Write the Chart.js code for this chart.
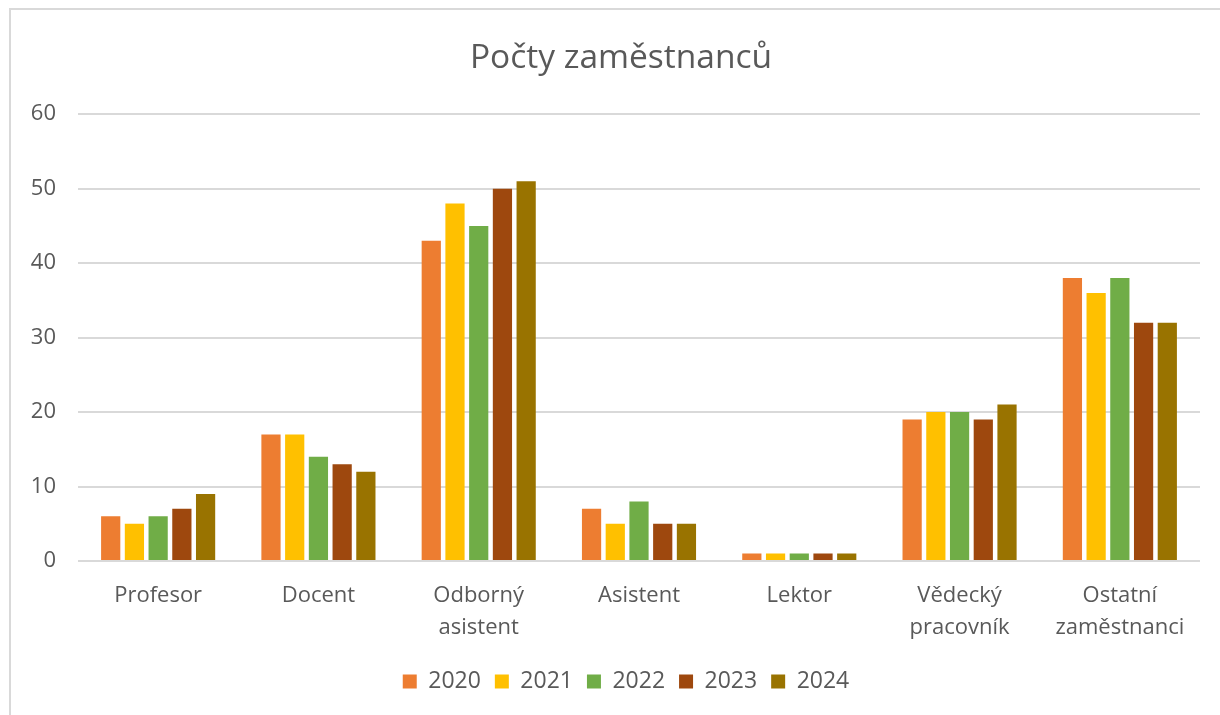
<!DOCTYPE html>
<html>
<head>
<meta charset="utf-8">
<script src="https://cdn.jsdelivr.net/npm/chart.js@4"></script>
<style>
  html, body { margin: 0; padding: 0; background: #fff; overflow: hidden; }
  #wrap { position: relative; width: 1220px; height: 715px; }
  #frame { position: absolute; left: 9px; top: 8px; width: 1240px; height: 740px;
           border: 2px solid #d9d9d9; box-sizing: border-box; }
  #myChart { position: absolute; left: 0; top: 0; }
</style>
</head>
<body>
<div id="wrap">
  <div id="frame"></div>
  <canvas id="myChart" width="1220" height="715"></canvas>
</div>
<script>
const categories = [
    ['Profesor'], ['Docent'], ['Odborný', 'asistent'], ['Asistent'], ['Lektor'],
    ['Vědecký', 'pracovník'], ['Ostatní', 'zaměstnanci']
];
const years = ['2020', '2021', '2022', '2023', '2024'];
const values2020 = [6, 17, 43, 7, 1, 19, 38];
const values2021 = [5, 17, 48, 5, 1, 20, 36];
const values2022 = [6, 14, 45, 8, 1, 20, 38];
const values2023 = [7, 13, 50, 5, 1, 19, 32];
const values2024 = [9, 12, 51, 5, 1, 21, 32];
const yTicks = [0, 10, 20, 30, 40, 50, 60];

const colors = ['#ED7D31', '#FFC000', '#70AD47', '#9E480E', '#997300'];
const allValues = [values2020, values2021, values2022, values2023, values2024];

const textColor = '#595959';
const fontFamily = '"Open Sans", sans-serif';

const datasets = [];
for (let i = 0; i < years.length; i++) {
    datasets.push({
        label: years[i],
        data: allValues[i],
        backgroundColor: colors[i],
        borderWidth: 0,
        categoryPercentage: 0.74,
        barPercentage: 0.81
    })
}

// title and legend sit a little right of centre in the original
const shiftBoxes = {
    id: 'shiftBoxes',
    afterLayout(chart) {
        chart.legend.left += 26;
        chart.legend.right += 26;
        chart.titleBlock.left += 21;
        chart.titleBlock.right += 21;
    }
};

const config = {
    type: 'bar',
    data: { labels: categories, datasets: datasets },
    plugins: [shiftBoxes],
    options: {
        responsive: false,
        animation: false,
        layout: { padding: { left: 0, right: 20, top: 0, bottom: 12 } },
        plugins: {
            title: {
                display: true,
                text: 'Počty zaměstnanců',
                color: textColor,
                font: { family: fontFamily, size: 33.5, weight: 'normal' },
                padding: { top: 38, bottom: 36 }
            },
            legend: {
                position: 'bottom',
                labels: {
                    color: textColor,
                    font: { family: fontFamily, size: 23 },
                    boxWidth: 14,
                    boxHeight: 14,
                    padding: 14
                }
            },
            tooltip: { enabled: false }
        },
        scales: {
            x: {
                grid: { display: false },
                border: { display: false },
                ticks: {
                    color: textColor,
                    font: { family: fontFamily, size: 22, lineHeight: 1.45 },
                    padding: 11,
                    maxRotation: 0
                },
                afterFit: (scale) => { scale.height = 95; }
            },
            y: {
                min: 0,
                max: 60,
                afterBuildTicks: (scale) => { scale.ticks = yTicks.map(v => ({ value: v })); },
                grid: { color: '#d9d9d9', lineWidth: 2, drawTicks: false },
                border: { display: false },
                ticks: {
                    color: textColor,
                    font: { family: fontFamily, size: 22 },
                    padding: 22
                },
                afterFit: (scale) => { scale.width = 78; }
            }
        }
    }
};

const myChart = new Chart(document.getElementById('myChart'), config);
</script>
</body>
</html>
